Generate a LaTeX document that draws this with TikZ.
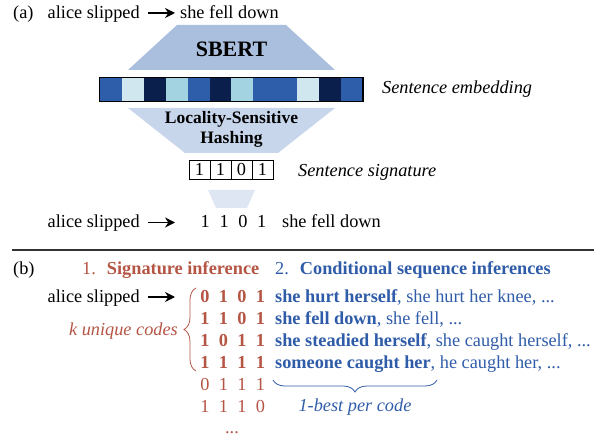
\documentclass[tikz,border=0pt]{standalone}
\usepackage{fontspec}
\setmainfont{Liberation Serif}
\usetikzlibrary{arrows.meta,decorations.pathreplacing}

\definecolor{sigred}{RGB}{181,85,68}
\definecolor{seqblue}{RGB}{47,92,168}
\definecolor{cB}{RGB}{46,94,170}
\definecolor{cL}{RGB}{209,231,239}
\definecolor{cN}{RGB}{10,31,75}
\definecolor{cA}{RGB}{163,211,224}
\definecolor{sbertfill}{RGB}{170,190,222}
\definecolor{lshfill}{RGB}{200,214,236}
\definecolor{sigfill}{RGB}{222,230,243}

\tikzset{
  txt/.style={inner sep=0, text height=14pt, text depth=3pt, anchor=west},
  bit/.style={inner sep=0, text height=14pt, text depth=3pt},
  cell/.style={inner sep=0, minimum width=21.9pt, minimum height=23pt},
  sigcell/.style={draw, line width=0.8pt, inner sep=0, minimum width=21pt, minimum height=19pt},
  imp/.style={-{Stealth[length=10pt,width=10pt]}, line width=1.4pt},
}

\begin{document}
\fontsize{18.3}{22}\selectfont
\begin{tikzpicture}[x=1pt,y=-1pt]
\useasboundingbox (0,0) rectangle (594,438);

% (a)
\node[txt] (la) at (13,13) {(a)};
\node[txt] (alice1) at (47.5,13) {alice slipped};
\node[txt] (fell1) at (180,13) {she fell down};
\draw[imp, shorten <=8pt, shorten >=5pt] (alice1) -- (fell1);

\fill[sbertfill] (128,70) -- (177,25) -- (286,25) -- (335,70) -- cycle;
\node[font=\fontsize{22}{24}\selectfont\bfseries] (sbert) at (231.5,49) {SBERT};

\foreach \c [count=\i] in {B,L,N,A,B,N,A,B,B,L,N,B}
  \node[cell, fill=c\c] (e\i) at ({100+21.9*(\i-0.5)},89.5) {};
\draw[line width=1.2pt] (e1.north west) rectangle (e12.south east);
\node[txt, font=\itshape] (emb) at (382,88) {Sentence embedding};

\fill[lshfill] (128,108) -- (335,108) -- (278,153) -- (185,153) -- cycle;
\node[align=center, font=\fontsize{17.5}{20}\selectfont\bfseries] (lsh) at (231.5,129) {Locality-Sensitive\\Hashing};

\foreach \d [count=\i] in {1,1,0,1}
  \node[sigcell] (s\i) at ({178.5+21*\i},169.5) {\d};
\node[txt, font=\itshape] (sig) at (298,171.5) {Sentence signature};

\fill[sigfill] (208,190) -- (255,190) -- (247,208) -- (216,208) -- cycle;

\node[txt] (alice2) at (47.5,222.5) {alice slipped};
\coordinate (a2end) at (175,222.5);
\draw[imp, shorten <=8pt] (alice2) -- (a2end);
\foreach \d [count=\i] in {1,1,0,1}
  \node[bit] (m\i) at ({186.5+18.8*\i},222.5) {\d};
\node[txt] (fell2) at (282,222.5) {she fell down};

\draw[line width=1.5pt, black!80] (12,250) -- (594,250);

% (b)
\node[txt] (lb) at (13,268.5) {(b)};
\node[txt, text=sigred] (step1) at (82,268.5) {1.\hspace{11pt}\textbf{Signature inference}};
\node[txt, text=seqblue] (step2) at (275,268.5) {2.\hspace{11pt}\textbf{Conditional sequence inferences}};

\node[txt] (alice3) at (47.5,297) {alice slipped};
\coordinate (a3end) at (175,297);
\draw[imp, shorten <=8pt] (alice3) -- (a3end);

\foreach \row/\bits in {1/{0,1,0,1},2/{1,1,0,1},3/{1,0,1,1},4/{1,1,1,1}}
  \foreach \d [count=\j] in \bits
    \node[bit, text=sigred, font=\bfseries] (c\row\j) at ({186.5+18.5*\j},{275+22*\row}) {\d};
\foreach \row/\bits in {5/{0,1,1,1},6/{1,1,1,0}}
  \foreach \d [count=\j] in \bits
    \node[bit, text=sigred] (c\row\j) at ({186.5+18.5*\j},{275+22*\row}) {\d};
\node[bit, text=sigred] (more) at (232,428) {...};

\coordinate (kt) at (196,288);
\coordinate (kb) at (196,371);
\draw[sigred, line width=0.8pt, decorate, decoration={brace, amplitude=12pt}] (kb) -- (kt);
\node[txt, anchor=east, text=sigred, font=\itshape] (kcodes) at (178,330) {k unique codes};

\node[txt, text=seqblue] (r1) at (275,297) {\textbf{she hurt herself}, she hurt her knee, ...};
\node[txt, text=seqblue] (r2) at (275,319) {\textbf{she fell down}, she fell, ...};
\node[txt, text=seqblue] (r3) at (275,341) {\textbf{she steadied herself}, she caught herself, ...};
\node[txt, text=seqblue] (r4) at (275,363) {\textbf{someone caught her}, he caught her, ...};

\coordinate (bl) at (273,380);
\coordinate (br) at (437,380);
\draw[seqblue, line width=0.8pt, decorate, decoration={brace, amplitude=12pt}] (br) -- (bl);
\node[text=seqblue, font=\itshape, inner sep=0] (best) at (355,407) {1-best per code};

\end{tikzpicture}
\end{document}
